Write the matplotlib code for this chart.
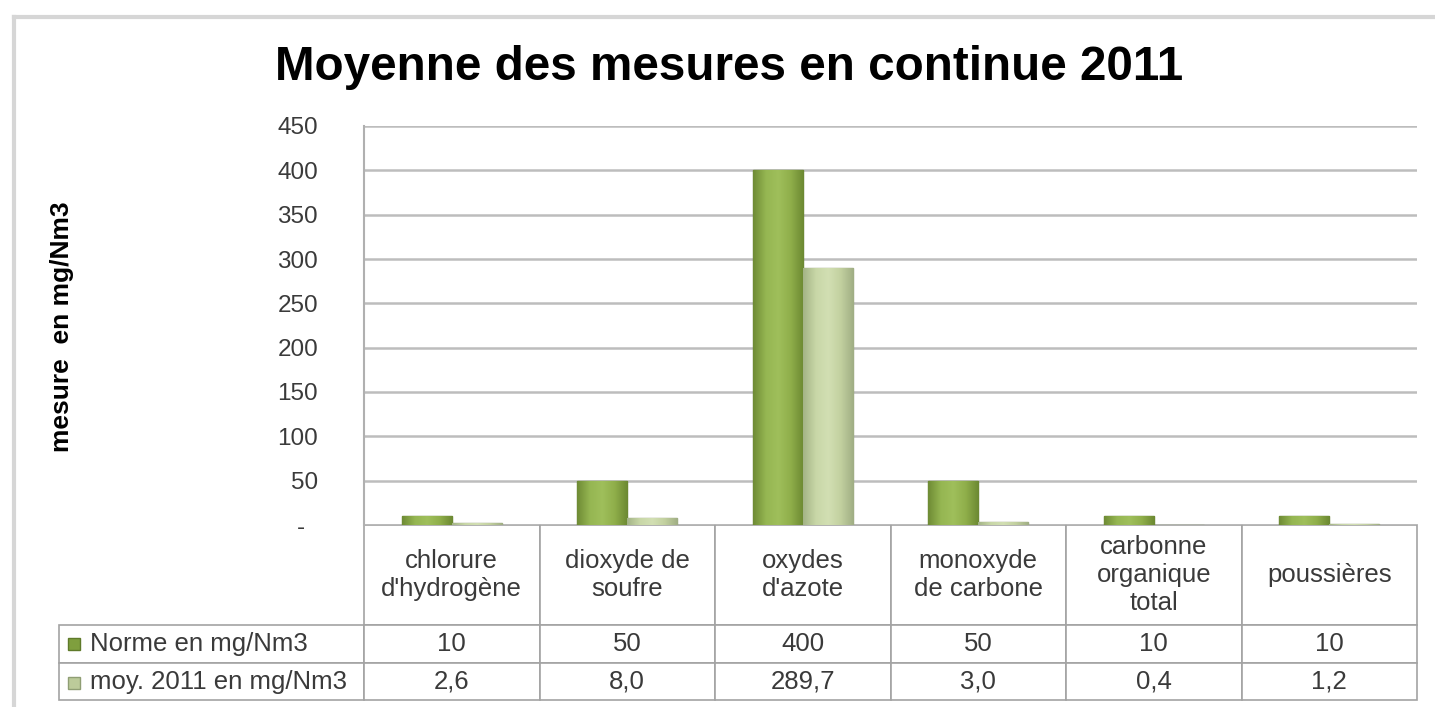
import matplotlib
matplotlib.use("Agg")
import matplotlib.pyplot as plt
import numpy as np
from matplotlib.table import Table
from matplotlib.colors import LinearSegmentedColormap
from matplotlib.lines import Line2D

plt.rcParams['font.family'] = ['Liberation Sans', 'DejaVu Sans']

# donnees
categories = ["chlorure\nd'hydrogène", "dioxyde de\nsoufre", "oxydes\nd'azote",
              "monoxyde\nde carbone", "carbonne\norganique\ntotal", "poussières"]
norme = [10, 50, 400, 50, 10, 10]
moy_2011 = [2.6, 8.0, 289.7, 3.0, 0.4, 1.2]
norme_txt = ["10", "50", "400", "50", "10", "10"]
moy_txt = ["2,6", "8,0", "289,7", "3,0", "0,4", "1,2"]
series_names = ["Norme en mg/Nm3", "moy. 2011 en mg/Nm3"]
yticks = [0, 50, 100, 150, 200, 250, 300, 350, 400, 450]

W, H = 1435, 707
fig = plt.figure(figsize=(W / 100, H / 100), dpi=100)

# cadre du graphique
fig.add_artist(Line2D([14 / W, 1], [1 - 17 / H, 1 - 17 / H], color='#d6d6d6', lw=3))
fig.add_artist(Line2D([14 / W, 14 / W], [0, 1 - 17 / H], color='#d6d6d6', lw=3))

ax = fig.add_axes([364 / W, 1 - 525 / H, (1417 - 364) / W, (525 - 126) / H])

x = np.arange(len(categories))
bw = 0.285
b1 = ax.bar(x - 0.142, norme, bw, color='#8aab46', edgecolor='#5f7a2a', lw=1, zorder=3)
b2 = ax.bar(x + 0.142, moy_2011, bw, color='#c3d2a2', edgecolor='#8f9e74', lw=1, zorder=3)

cm1 = LinearSegmentedColormap.from_list('n', ['#6f8c35', '#95b652', '#9fbf5b', '#8fae4a', '#6c8932'])
cm2 = LinearSegmentedColormap.from_list('m', ['#a4b487', '#c8d7a7', '#d2dfb3', '#c2d09f', '#a0ae84'])
grad = np.linspace(0, 1, 64).reshape(1, -1)
for bars, cm in ((b1, cm1), (b2, cm2)):
    for p in bars:
        im = ax.imshow(grad, extent=[p.get_x(), p.get_x() + p.get_width(), 0, p.get_height()],
                       aspect='auto', cmap=cm, zorder=3.5)
        im.set_clip_path(p)

ax.set_xlim(-0.5, 5.5)
ax.set_ylim(0, 450)
ax.set_yticks(yticks)
ax.set_yticklabels(["-  "] + [str(v) for v in yticks[1:]])
ax.tick_params(axis='y', length=0, pad=33, labelsize=17.5, labelcolor='#3a3a3a')
ax.set_xticks([])
ax.grid(axis='y', color='#bdbdbd', lw=1.8, zorder=0)
for s in ('top', 'right', 'bottom'):
    ax.spines[s].set_visible(False)
ax.spines['left'].set_color('#b0b0b0')
ax.spines['left'].set_linewidth(1.5)

# tableau de donnees
pw, ph = 1417 - 364, 525 - 126
tab = Table(ax, bbox=[(59 - 364) / pw, -(700 - 525) / ph, (1417 - 59) / pw, (700 - 525) / ph])
col_w = [305] + [175.5] * 6
row_h = [100, 38, 37]
rows = [[""] + categories,
        [series_names[0]] + norme_txt,
        [series_names[1]] + moy_txt]
for r in range(3):
    for c in range(7):
        loc = 'left' if (c == 0 and r > 0) else 'center'
        cell = tab.add_cell(r, c, col_w[c], row_h[r], text=rows[r][c], loc=loc,
                            facecolor='white', edgecolor='#a3a3a3')
        cell.set_linewidth(1.2)
        cell.get_text().set_color('#3a3a3a')
        cell.get_text().set_linespacing(1.2)
        if r == 0 and c == 0:
            cell.visible_edges = ''
tab.auto_set_font_size(False)
tab.set_fontsize(18.5)
ax.add_table(tab)

# carres de legende
ax.plot([(74 - 364) / pw], [-(644 - 525) / ph], marker='s', ms=8, color='#7f9f3e',
        mec='#5f7a2a', transform=ax.transAxes, clip_on=False)
ax.plot([(74 - 364) / pw], [-(683 - 525) / ph], marker='s', ms=8, color='#bccb9a',
        mec='#8f9e74', transform=ax.transAxes, clip_on=False)

fig.text(729 / W, 1 - 68 / H, "Moyenne des mesures en continue 2011", fontsize=34.3,
         fontweight='bold', ha='center', va='center', color='black')
fig.text(62 / W, 1 - 327 / H, "mesure  en mg/Nm3", fontsize=19, fontweight='bold',
         rotation=90, ha='center', va='center', color='black')

fig.savefig("out.png", dpi=100)
